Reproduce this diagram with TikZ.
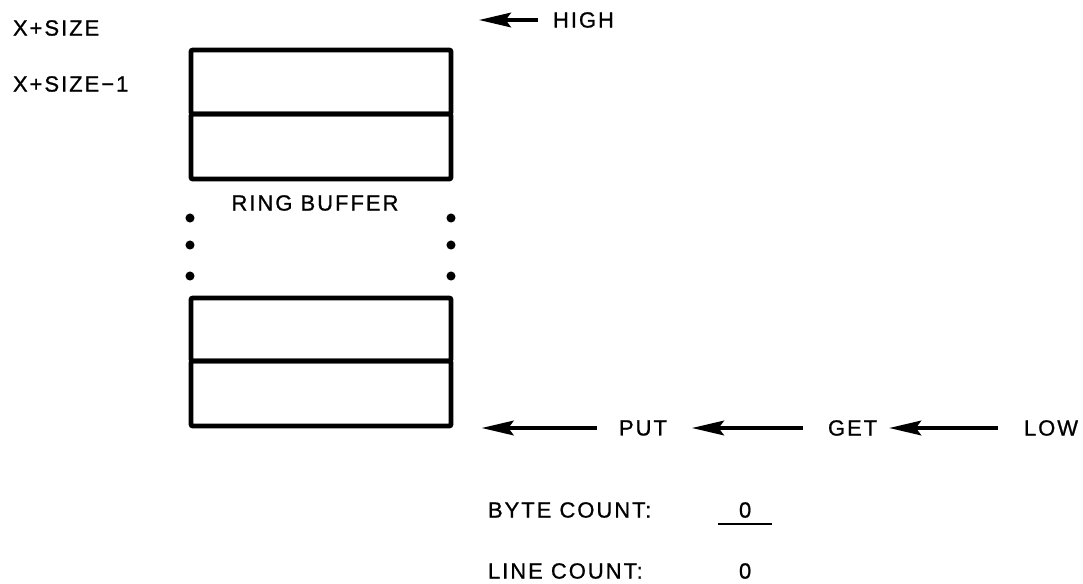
\documentclass[tikz,border=0pt]{standalone}
\usepackage{fontspec}
\setmainfont{Liberation Sans}[LetterSpace=9,FakeBold=0.9]
\usetikzlibrary{arrows.meta}
\begin{document}
\begin{tikzpicture}[x=0.75pt,y=-0.75pt,
  lbl/.style={inner sep=0pt, outer sep=0pt, font=\fontsize{16.5}{19}\selectfont},
  cell/.style={draw, line width=3.7pt, minimum width=195pt, inner sep=0pt, outer sep=0pt, rounded corners=1.5pt},
  dotnode/.style={circle, fill, inner sep=0pt, minimum size=6.8pt},
  arr/.style={line width=2.6pt, -{Stealth[length=24pt,width=11pt,inset=4pt]}}]
\useasboundingbox (0,0) rectangle (1083,583);
% top cells
\node[cell, minimum height=48pt] (t1) at (321,82) {};
\node[cell, minimum height=48.75pt, anchor=north] (t2) at (t1.south) {};
% bottom cells
\node[cell, minimum height=47.25pt] (b1) at (321,329.5) {};
\node[cell, minimum height=48.75pt, anchor=north] (b2) at (b1.south) {};
% dots
\foreach \yy [count=\i] in {218,245,276}{
  \node[dotnode] (dl\i) at (190,\yy) {};
  \node[dotnode] (dr\i) at (451,\yy) {};
}
% labels
\node[lbl, anchor=west] (xs) at (13,28) {X+SIZE};
\node[lbl, anchor=west] (xs1) at (13,84) {X+SIZE−1};
\node[lbl, anchor=west] (high) at (553,20) {HIGH};
\node[lbl] (ring) at (315,203) {RING BUFFER};
\node[lbl, anchor=west] (put) at (619,428) {PUT};
\node[lbl, anchor=west] (get) at (828,428) {GET};
\node[lbl, anchor=west] (low) at (1024,428) {LOW};
\node[lbl, anchor=west] (bc) at (488,510) {BYTE COUNT:};
\node[lbl, anchor=west] (bc0) at (739,510) {0};
\node[lbl, anchor=west] (lc) at (488,571) {LINE COUNT:};
\node[lbl, anchor=west] (lc0) at (739,571) {0};
\draw[line width=1.6pt] (718,524) -- (772,524);
% arrows
\draw[arr, shorten <=11pt, shorten >=21pt] (high.west) -- (high.west -| t1.east);
\draw[arr, shorten <=16.5pt, shorten >=23pt] (put.west) -- (put.west -| b2.east);
\draw[arr, shorten <=18.75pt, shorten >=18.75pt] (get.west) -- (put.east);
\draw[arr, shorten <=19.5pt, shorten >=9pt] (low.west) -- (get.east);
\end{tikzpicture}
\end{document}
